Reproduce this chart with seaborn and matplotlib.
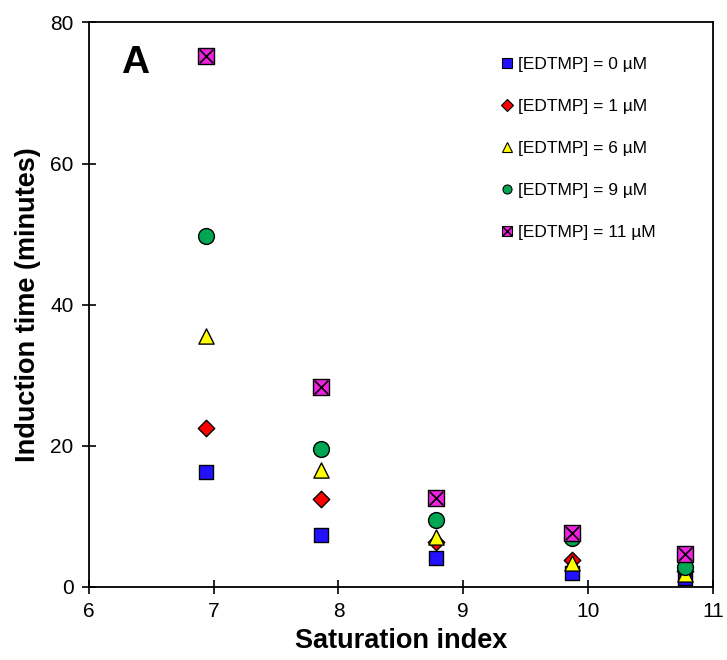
import matplotlib
matplotlib.use("Agg")
import matplotlib.pyplot as plt
from matplotlib.lines import Line2D
from matplotlib.legend_handler import HandlerTuple
import numpy as np
import pandas as pd
import seaborn as sns

# Saturation index of each run
saturation = [6.94, 7.86, 8.78, 9.87, 10.78]

# Induction time (minutes) for each EDTMP concentration
edtmp_0 = [16.2, 7.3, 4.1, 1.9, 1.3]
edtmp_1 = [22.5, 12.4, 6.3, 3.8, 2.3]
edtmp_6 = [35.6, 16.5, 7.0, 3.4, 1.8]
edtmp_9 = [49.7, 19.5, 9.5, 6.9, 2.8]
edtmp_11 = [75.3, 28.3, 12.6, 7.6, 4.6]

labels = ["[EDTMP] = 0 µM", "[EDTMP] = 1 µM", "[EDTMP] = 6 µM",
          "[EDTMP] = 9 µM", "[EDTMP] = 11 µM"]
series = [edtmp_0, edtmp_1, edtmp_6, edtmp_9, edtmp_11]

colors = ["#2211FF", "#FF0000", "#FFFF00", "#00A651", "#EE22E0"]
markers = ["s", "D", "^", "o", "s"]
sizes = [95, 70, 120, 130, 120]

df = pd.DataFrame({
    "si": np.tile(saturation, len(series)),
    "t": np.concatenate(series),
    "group": np.repeat(labels, len(saturation)),
})

sns.set_style("ticks")
plt.rcParams["font.family"] = ["Liberation Sans", "DejaVu Sans"]
plt.rcParams["text.color"] = "black"
plt.rcParams["axes.labelcolor"] = "black"

fig = plt.figure(figsize=(7.27, 6.6), dpi=100)
ax = fig.add_axes([0.1224, 0.111, 0.858, 0.855])

for lab, col, mk, sz in zip(labels, colors, markers, sizes):
    sub = df[df["group"] == lab]
    sns.scatterplot(data=sub, x="si", y="t", ax=ax, color=col, marker=mk,
                    s=sz, edgecolor="black", linewidth=1.0, legend=False,
                    zorder=3)
# cross over the 11 µM squares
sns.scatterplot(data=df[df["group"] == labels[-1]], x="si", y="t", ax=ax,
                color="black", marker="x", s=95, linewidth=1.2,
                legend=False, zorder=4)

ax.set_xlim(6, 11)
ax.set_ylim(0, 80)
ax.set_xticks([6, 7, 8, 9, 10, 11])
ax.set_yticks([0, 20, 40, 60, 80])
ax.tick_params(direction="inout", length=10, width=1.2, labelsize=15,
               color="black", labelcolor="black", pad=6)
for sp in ax.spines.values():
    sp.set_visible(True)
    sp.set_linewidth(1.3)
    sp.set_color("black")

ax.set_xlabel("Saturation index", fontsize=19.5, fontweight="bold",
              labelpad=5, color="black")
ax.set_ylabel("Induction time (minutes)", fontsize=19.5, fontweight="bold",
              labelpad=7, color="black")

ax.text(0.074, 0.928, "A", transform=ax.transAxes, fontsize=28,
        fontweight="bold", ha="center", va="center", color="black")

handles = []
for col, mk in zip(colors, markers):
    handles.append(Line2D([], [], linestyle="none", marker=mk, markersize=6.5,
                          markerfacecolor=col, markeredgecolor="black",
                          markeredgewidth=0.8))
handles[-1] = (handles[-1],
               Line2D([], [], linestyle="none", marker="x", markersize=6.5,
                      color="black", markeredgewidth=1.0))
leg = ax.legend(handles, labels, loc="upper left",
                bbox_to_anchor=(0.647, 0.954), frameon=False, fontsize=12.5,
                handlelength=0.7, handletextpad=0.25, labelspacing=1.54,
                borderpad=0, handler_map={tuple: HandlerTuple(ndivide=1)})
for t in leg.get_texts():
    t.set_color("black")

fig.savefig("out.png", dpi=100, facecolor="white")
